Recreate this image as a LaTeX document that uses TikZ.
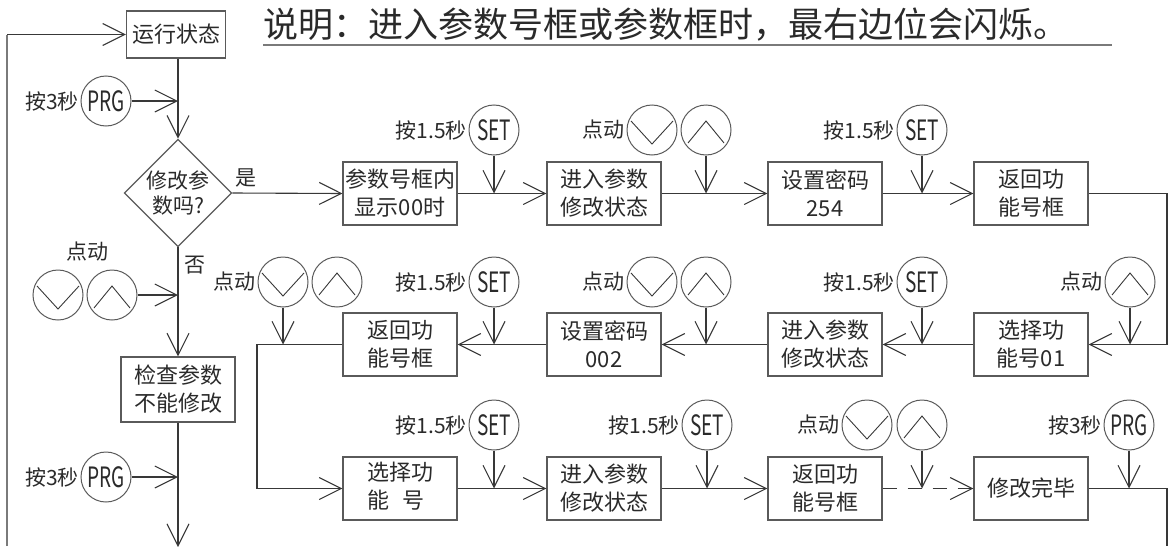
\documentclass[tikz,border=0pt]{standalone}
\usepackage{graphicx}
\usepackage{fontspec}
\setmainfont{Noto Sans CJK SC}
\usetikzlibrary{arrows.meta,shapes.geometric}
\definecolor{txt}{HTML}{2A2A2A}
\definecolor{ln}{HTML}{383838}
\definecolor{bx}{HTML}{5A5A5A}
\definecolor{lp}{HTML}{7A7A7A}
\newcommand\keylbl[1]{\scalebox{0.68}[1]{\fontsize{28}{28}\selectfont #1}}
\begin{document}
\begin{tikzpicture}[x=1pt,y=-1pt,line width=1.1pt,
  >={Straight Barb[length=22pt,width=22pt]},
  conn/.style={draw=ln,->},
  plain/.style={draw=ln},
  box/.style={draw=bx,line width=1.1pt,minimum width=114pt,minimum height=63pt,inner sep=0pt,align=center,text=txt,font=\fontsize{22}{28}\selectfont},
  lbl/.style={text=txt,font=\fontsize{21}{24}\selectfont,inner sep=1pt},
  btn/.style={circle,draw=bx,line width=1pt,minimum size=50pt,inner sep=0pt,text=txt},
  downbtn/.style={btn,path picture={\draw[ln,line width=0.9pt]
    ([shift={(-21pt,9pt)}]path picture bounding box.center) --
    ([shift={(0pt,-14pt)}]path picture bounding box.center) --
    ([shift={(21pt,9pt)}]path picture bounding box.center);}},
  upbtn/.style={btn,path picture={\draw[ln,line width=0.9pt]
    ([shift={(-18pt,-13pt)}]path picture bounding box.center) --
    ([shift={(0pt,9pt)}]path picture bounding box.center) --
    ([shift={(18pt,-13pt)}]path picture bounding box.center);}}]
\useasboundingbox (0,0) rectangle (1174,546);

% title
\node[text=txt,font=\fontsize{35}{35}\selectfont,anchor=west,inner sep=0pt] (title) at (263,25) {说明：进入参数号框或参数框时，最右边位会闪烁。};
\draw[lp,line width=2pt] (title.south west |- 0,45) coordinate (ul1) -- (1112,45) coordinate (ul2);

% left column
\node[box,minimum width=99pt,minimum height=47pt] (run) at (176,34.5) {运行状态};
\node[diamond,draw=bx,line width=1.1pt,minimum width=107pt,minimum height=105pt,inner sep=0pt,align=center,text=txt,font=\fontsize{21}{25}\selectfont] (dia) at (178,193) {修改参\\数吗?};
\node[box,minimum height=65pt] (chk) at (178,389.5) {检查参数\\不能修改};

\node[btn] (prg1) at (106,101) {\keylbl{PRG}};
\node[lbl,anchor=east] (lprg1) at (prg1.west) {按3秒};
\node[btn] (prg2) at (106,477) {\keylbl{PRG}};
\node[lbl,anchor=east] (lprg2) at (prg2.west) {按3秒};
\node[downbtn] (ld) at (58,295) {};
\node[upbtn] (lu) at (112,295) {};
\node[lbl] (ldl) at (87,252) {点动};
\node[lbl] (yes) at (246,178) {是};
\node[lbl] (no) at (195,265) {否};

\draw[conn] (dia.north |- run.south) -- (dia.north);
\draw[conn] (prg1) -- (prg1 -| dia.north);
\draw[conn] (dia.south) -- (chk.north);
\draw[conn] (lu) -- (lu -| dia.north);
\coordinate (bot) at (178,547);
\draw[conn] (chk.south) -- (bot);
\draw[conn] (prg2) -- (prg2 -| chk.south);
\coordinate (lb) at (7,546);
\draw[draw=lp,line width=2pt] (lb) -- (7,34.5) coordinate (lt);
\draw[conn] (lt) -- (run.west);

% row 1
\node[box] (A) at (400,193.5) {参数号框内\\显示00时};
\node[box] (B) at (604,193.5) {进入参数\\修改状态};
\node[box] (C) at (825,193.5) {设置密码\\254};
\node[box] (D) at (1031,193.5) {返回功\\能号框};
\draw[conn] (dia.east) -- (A.west);
\draw[conn] (A) -- (B);
\draw[conn] (B) -- (C);
\draw[conn] (C) -- (D);
\node[btn] (s1) at (494,130) {\keylbl{SET}};
\node[lbl,anchor=east] (ls1) at (s1.west) {按1.5秒};
\node[downbtn] (d1) at (652,130) {};
\node[upbtn] (u1) at (706,130) {};
\node[lbl,anchor=east] (ld1) at (d1.west) {点动};
\node[btn] (s2) at (922,130) {\keylbl{SET}};
\node[lbl,anchor=east] (ls2) at (s2.west) {按1.5秒};
\draw[conn] (s1) -- (s1 |- A.east);
\draw[conn] (u1) -- (u1 |- A.east);
\draw[conn] (s2) -- (s2 |- A.east);

% row 2
\node[box] (E) at (1031,344.5) {选择功\\能号01};
\node[box] (F) at (825,344.5) {进入参数\\修改状态};
\node[box] (G) at (604,344.5) {设置密码\\002};
\node[box] (H) at (400,344.5) {返回功\\能号框};
\coordinate (r1) at (1167,193.5);
\coordinate (r2) at (1167,344.5);
\draw[conn] (D.east) -- (r1) -- (r2) -- (E.east);
\draw[conn] (E) -- (F);
\draw[conn] (F) -- (G);
\draw[conn] (G) -- (H);
\node[upbtn] (u2) at (1130,282) {};
\node[lbl,anchor=east] (lu2) at (u2.west) {点动};
\node[btn] (s3) at (922,282) {\keylbl{SET}};
\node[lbl,anchor=east] (ls3) at (s3.west) {按1.5秒};
\node[downbtn] (d3) at (652,282) {};
\node[upbtn] (u3) at (706,282) {};
\node[lbl,anchor=east] (ld3) at (d3.west) {点动};
\node[btn] (s4) at (494,282) {\keylbl{SET}};
\node[lbl,anchor=east] (ls4) at (s4.west) {按1.5秒};
\node[downbtn] (d4) at (283,282) {};
\node[upbtn] (u4) at (337,282) {};
\node[lbl,anchor=east] (ld4) at (d4.west) {点动};
\draw[conn] (u2) -- (u2 |- E.east);
\draw[conn] (s3) -- (s3 |- E.east);
\draw[conn] (u3) -- (u3 |- E.east);
\draw[conn] (s4) -- (s4 |- E.east);
\draw[conn] (d4) -- (d4 |- E.east);

% row 3
\node[box] (I) at (400,488.5) {\begin{tabular}{@{}l@{}}选择功\\能\hspace{14pt}号\end{tabular}};
\node[box] (J) at (604,488.5) {进入参数\\修改状态};
\node[box] (K) at (825,488.5) {返回功\\能号框};
\node[box] (L) at (1031,488.5) {修改完毕};
\coordinate (m1) at (257,344.5);
\coordinate (m2) at (257,488.5);
\draw[conn] (H.west) -- (m1) -- (m2) -- (I.west);
\draw[conn] (I) -- (J);
\draw[conn] (J) -- (K);
\draw[conn,dash pattern=on 14pt off 11pt] (K) -- (L);
\coordinate (r3) at (1167,488.5);
\coordinate (r4) at (1167,546);
\draw[plain] (L.east) -- (r3) -- (r4);
\node[btn] (s5) at (494,425) {\keylbl{SET}};
\node[lbl,anchor=east] (ls5) at (s5.west) {按1.5秒};
\node[btn] (s6) at (707,425) {\keylbl{SET}};
\node[lbl,anchor=east] (ls6) at (s6.west) {按1.5秒};
\node[downbtn] (d7) at (867,425) {};
\node[upbtn] (u7) at (922,425) {};
\node[lbl,anchor=east] (ld7) at (d7.west) {点动};
\node[btn] (p3) at (1129,425) {\keylbl{PRG}};
\node[lbl,anchor=east] (lp3) at (p3.west) {按3秒};
\draw[conn] (s5) -- (s5 |- I.east);
\draw[conn] (s6) -- (s6 |- I.east);
\draw[conn] (u7) -- (u7 |- I.east);
\draw[conn] (p3) -- (p3 |- I.east);
\end{tikzpicture}
\end{document}
